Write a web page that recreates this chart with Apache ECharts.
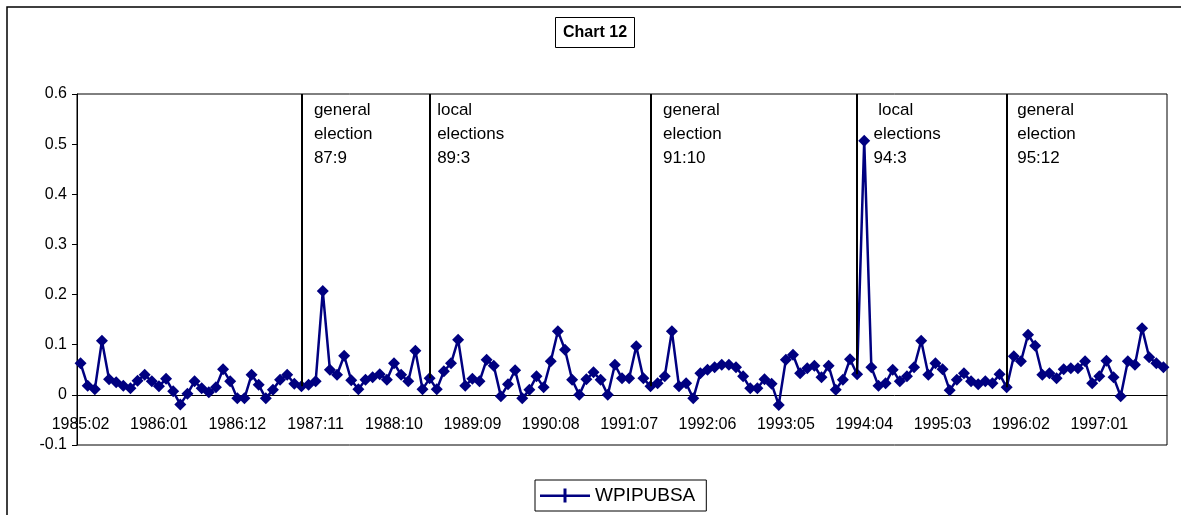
<!DOCTYPE html>
<html>
<head>
<meta charset="utf-8">
<script src="https://cdn.jsdelivr.net/npm/echarts@6/dist/echarts.min.js"></script>
<style>
  html, body { margin: 0; padding: 0; background: #fff; }
  #chart { width: 1181px; height: 515px; }
</style>
</head>
<body>
<div id="chart"></div>
<script>
// monthly categories 1985:02 .. 1997:10
const startYear = 1985
const startMonth = 2
const monthCount = 153
const months = []
for (let i = 0; i < monthCount; i++) {
  const m = startMonth - 1 + i
  const y = startYear + Math.floor(m / 12)
  const mm = (m % 12) + 1
  months.push(y + ':' + String(mm).padStart(2, '0'))
}

// WPIPUBSA values
const wpipubsa = [
  0.063, 0.018, 0.011, 0.108, 0.031, 0.025, 0.018, 0.013, 0.028, 0.040,
  0.027, 0.017, 0.032, 0.007, -0.019, 0.002, 0.027, 0.013, 0.005, 0.015,
  0.051, 0.027, -0.007, -0.007, 0.040, 0.020, -0.007, 0.010, 0.030, 0.040,
  0.022, 0.017, 0.020, 0.027, 0.207, 0.050, 0.040, 0.078, 0.029, 0.011,
  0.030, 0.035, 0.041, 0.030, 0.063, 0.040, 0.027, 0.088, 0.011, 0.033,
  0.011, 0.047, 0.063, 0.110, 0.018, 0.032, 0.027, 0.070, 0.058, -0.003,
  0.021, 0.049, -0.007, 0.010, 0.037, 0.015, 0.067, 0.127, 0.090, 0.030,
  0.000, 0.031, 0.045, 0.030, 0.000, 0.060, 0.033, 0.033, 0.097, 0.033,
  0.017, 0.023, 0.037, 0.127, 0.017, 0.023, -0.007, 0.043, 0.050, 0.055,
  0.060, 0.060, 0.055, 0.037, 0.013, 0.013, 0.031, 0.022, -0.020, 0.070,
  0.080, 0.043, 0.053, 0.058, 0.035, 0.058, 0.010, 0.030, 0.071, 0.041,
  0.507, 0.055, 0.018, 0.023, 0.050, 0.027, 0.037, 0.055, 0.108, 0.040,
  0.063, 0.051, 0.009, 0.030, 0.043, 0.027, 0.021, 0.027, 0.023, 0.041,
  0.015, 0.077, 0.067, 0.120, 0.098, 0.040, 0.043, 0.033, 0.051, 0.053,
  0.053, 0.067, 0.023, 0.037, 0.068, 0.035, -0.003, 0.067, 0.060, 0.133,
  0.075, 0.063, 0.055
]

// election markers
const eventMonths = ['1987:09', '1989:03', '1991:10', '1994:03', '1995:12']
const eventLabels = [
  'general\nelection\n87:9',
  'local\nelections\n89:3',
  'general\nelection\n91:10',
  ' local\nelections\n94:3',
  'general\nelection\n95:12'
]
const eventLabelShift = [7, 2, 7, 11, 5]

const yMin = -0.1
const yMax = 0.6
const yStep = 0.1

const fontFamily = '"Liberation Sans", Arial, sans-serif'
const navy = '#000080'

const chart = echarts.init(document.getElementById('chart'))

const eventLines = eventMonths.map(m => [
  { xAxis: m, yAxis: yMax },
  { xAxis: m, yAxis: wpipubsa[months.indexOf(m)] }
])

const eventTexts = eventMonths.map((m, i) => ({
  coord: [m, yMax],
  label: {
    formatter: eventLabels[i],
    offset: [eventLabelShift[i], 4]
  }
}))

chart.setOption({
  animation: false,
  textStyle: { fontFamily: fontFamily },
  title: {
    text: 'Chart 12',
    left: 555,
    top: 17,
    padding: [7, 8, 7, 8],
    borderColor: '#000',
    borderWidth: 1,
    textStyle: {
      fontFamily: fontFamily,
      fontSize: 16,
      lineHeight: 17,
      fontWeight: 'bold',
      color: '#000'
    }
  },
  graphic: [{
    type: 'rect',
    silent: true,
    shape: { x: 7, y: 7, width: 1200, height: 600 },
    style: { fill: 'none', stroke: '#000', lineWidth: 1.5 }
  }],
  legend: {
    left: 535,
    top: 480,
    padding: [6, 11, 6, 5],
    borderColor: '#000',
    borderWidth: 1,
    itemWidth: 50,
    itemHeight: 14,
    itemGap: 6,
    icon: 'path://M0,6h50v2.5h-50z M23.5,0h3v14h-3z',
    textStyle: { fontFamily: fontFamily, fontSize: 19, color: '#000' },
    data: ['WPIPUBSA']
  },
  grid: {
    left: 77,
    right: 14,
    top: 94,
    bottom: 70,
    show: true,
    borderColor: '#000',
    borderWidth: 1
  },
  xAxis: {
    type: 'category',
    data: months,
    boundaryGap: true,
    axisLine: { onZero: true, lineStyle: { color: '#000', width: 1 } },
    axisTick: { interval: 5, length: 5, lineStyle: { color: '#000' } },
    axisLabel: {
      interval: 10,
      margin: -28,
      color: '#000',
      fontSize: 16,
      fontFamily: fontFamily
    },
    splitLine: { show: false }
  },
  yAxis: {
    type: 'value',
    min: yMin,
    max: yMax,
    interval: yStep,
    axisLine: { show: true, lineStyle: { color: '#000', width: 1 } },
    axisTick: { show: true, length: 5, lineStyle: { color: '#000' } },
    axisLabel: {
      margin: 10,
      color: '#000',
      fontSize: 16,
      fontFamily: fontFamily,
      formatter: v => (Math.abs(v) < 1e-9 ? '0' : v.toFixed(1))
    },
    splitLine: { show: false }
  },
  series: [{
    name: 'WPIPUBSA',
    type: 'line',
    data: wpipubsa,
    symbol: 'diamond',
    symbolSize: 12,
    showAllSymbol: true,
    lineStyle: { color: navy, width: 2.5 },
    itemStyle: { color: navy },
    markLine: {
      silent: true,
      symbol: ['none', 'none'],
      label: { show: false },
      lineStyle: { color: '#000', width: 2, type: 'solid' },
      data: eventLines
    },
    markPoint: {
      silent: true,
      symbol: 'rect',
      symbolSize: 1,
      itemStyle: { color: 'rgba(0,0,0,0)' },
      label: {
        show: true,
        position: 'right',
        align: 'left',
        verticalAlign: 'top',
        color: '#000',
        fontSize: 17,
        lineHeight: 24,
        fontFamily: fontFamily
      },
      data: eventTexts
    }
  }]
})
</script>
</body>
</html>
